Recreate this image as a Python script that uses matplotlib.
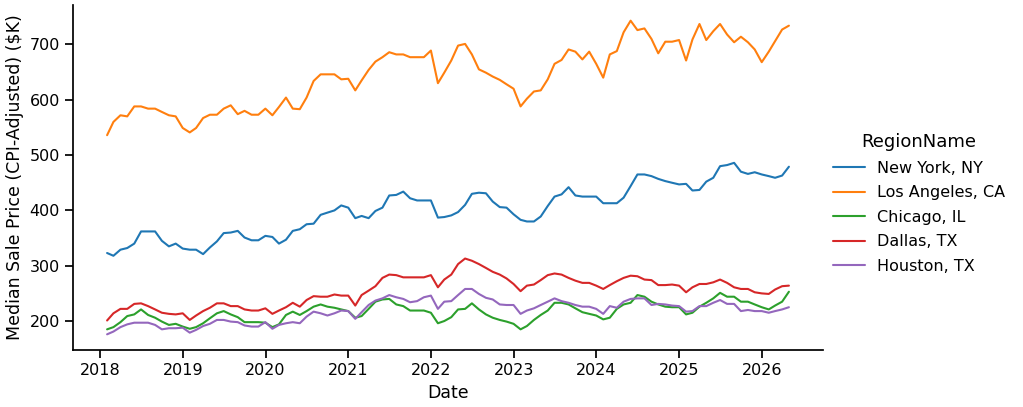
import matplotlib
matplotlib.use("Agg")
import matplotlib.pyplot as plt
import pandas as pd
import seaborn as sns

dates = pd.date_range("2018-01-31", periods=100, freq="ME")

regions = ["New York, NY", "Los Angeles, CA", "Chicago, IL", "Dallas, TX", "Houston, TX"]

new_york = [323, 318, 329, 332, 340, 362, 362, 362, 345, 335,
            340, 331, 329, 329, 321, 333, 344, 359, 360, 363,
            351, 346, 346, 354, 352, 340, 347, 363, 366, 375,
            376, 392, 396, 400, 409, 405, 386, 390, 386, 399,
            405, 427, 428, 434, 422, 418, 418, 418, 387, 388,
            391, 397, 410, 430, 432, 431, 416, 406, 405, 393,
            383, 380, 380, 389, 408, 425, 429, 442, 427, 425,
            425, 425, 413, 413, 413, 423, 444, 465, 465, 462,
            457, 453, 450, 447, 448, 436, 437, 452, 459, 480,
            482, 486, 470, 466, 469, 465, 462, 459, 463, 479]

los_angeles = [536, 560, 572, 570, 588, 588, 584, 584, 578, 572,
               570, 549, 541, 549, 567, 573, 573, 584, 590, 574,
               580, 573, 573, 584, 572, 587, 604, 584, 583, 604,
               634, 646, 646, 646, 637, 638, 617, 635, 654, 669,
               677, 686, 682, 682, 677, 677, 677, 689, 630, 649,
               671, 698, 701, 682, 655, 649, 642, 636, 628, 620,
               588, 602, 615, 617, 637, 665, 672, 691, 687, 673,
               687, 665, 640, 682, 688, 722, 743, 726, 729, 710,
               684, 705, 705, 708, 671, 709, 737, 708, 724, 737,
               718, 704, 714, 704, 691, 668, 687, 706, 727, 734]

chicago = [185, 189, 198, 209, 212, 221, 211, 206, 199, 193,
           195, 190, 186, 189, 196, 205, 214, 218, 212, 207,
           198, 198, 198, 197, 189, 194, 211, 217, 211, 218,
           226, 230, 226, 224, 221, 218, 206, 209, 222, 235,
           239, 240, 230, 227, 219, 219, 219, 215, 196, 200,
           207, 221, 222, 232, 221, 212, 206, 202, 199, 195,
           185, 191, 202, 211, 219, 233, 233, 230, 223, 216,
           213, 210, 203, 206, 222, 230, 233, 247, 244, 235,
           230, 226, 225, 225, 212, 215, 226, 233, 241, 251,
           244, 244, 235, 235, 230, 225, 221, 228, 235, 253]

dallas = [201, 214, 222, 222, 231, 232, 227, 221, 215, 213,
          212, 214, 202, 210, 218, 224, 232, 232, 227, 227,
          221, 219, 219, 223, 213, 219, 225, 233, 226, 238,
          245, 244, 244, 248, 246, 246, 228, 247, 255, 263,
          278, 284, 283, 279, 279, 279, 279, 283, 261, 275,
          284, 303, 313, 309, 303, 296, 289, 284, 277, 267,
          254, 264, 266, 274, 283, 286, 284, 278, 273, 269,
          269, 264, 258, 265, 272, 278, 282, 281, 275, 274,
          265, 265, 266, 264, 252, 261, 267, 267, 270, 275,
          269, 261, 258, 258, 252, 250, 249, 257, 263, 264]

houston = [176, 181, 189, 194, 197, 197, 197, 193, 185, 187,
           187, 188, 179, 184, 191, 195, 202, 202, 199, 198,
           192, 190, 190, 198, 186, 193, 196, 198, 196, 208,
           217, 214, 210, 214, 219, 218, 204, 216, 229, 237,
           241, 247, 243, 240, 234, 236, 243, 246, 222, 235,
           236, 247, 258, 258, 249, 242, 239, 230, 229, 229,
           213, 219, 223, 229, 235, 241, 236, 233, 229, 226,
           226, 222, 213, 227, 224, 235, 240, 241, 241, 229,
           231, 230, 228, 227, 217, 218, 227, 227, 233, 238,
           231, 231, 218, 220, 218, 218, 215, 218, 221, 225]

series = [new_york, los_angeles, chicago, dallas, houston]
colors = ["#1f77b4", "#ff7f0e", "#2ca02c", "#d62728", "#9467bd"]

sns.set_theme(style="ticks", context="notebook")
plt.rcParams["font.family"] = ["DejaVu Sans"]
plt.rcParams.update({
    "text.color": "black",
    "axes.labelcolor": "black",
    "axes.edgecolor": "black",
    "xtick.color": "black",
    "ytick.color": "black",
    "xtick.labelsize": 11.5,
    "ytick.labelsize": 11.5,
    "axes.labelsize": 12.5,
})

fig = plt.figure(figsize=(10.23, 4.07), dpi=100)
ax = fig.add_axes([73 / 1023, 1 - 350 / 407, (823 - 73) / 1023, (350 - 5) / 407])

for name, vals, c in zip(regions, series, colors):
    ax.plot(dates, vals, color=c, lw=1.5, label=name)

ax.set_xlabel("Date")
ax.set_ylabel("Median Sale Price (CPI-Adjusted) (\\$K)")
ax.set_yticks([200, 300, 400, 500, 600, 700])
sns.despine(ax=ax)

leg = fig.legend(loc="center left", bbox_to_anchor=(0.8, 0.5), frameon=False,
                 title="RegionName", fontsize=11.5, title_fontsize=13,
                 labelspacing=0.6)

fig.savefig("out.png", dpi=100)
